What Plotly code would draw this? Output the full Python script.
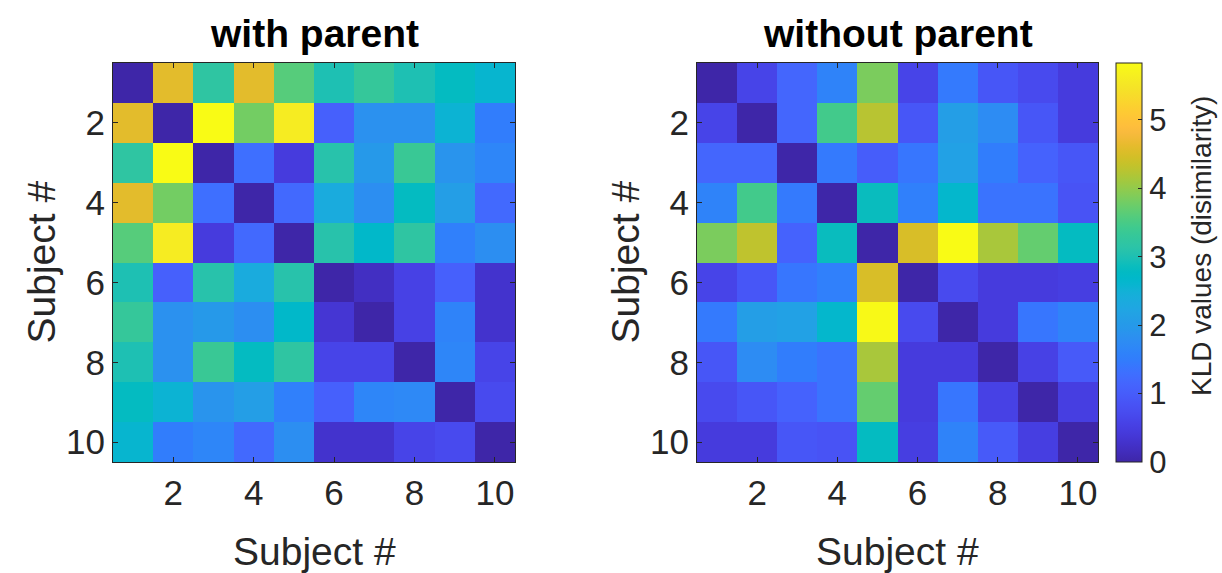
import plotly.graph_objects as go

subjects = list(range(1, 11))
tick_vals = [2, 4, 6, 8, 10]
cbar_ticks = [0, 1, 2, 3, 4, 5]

with_parent = [
    [0.00, 4.60, 3.20, 4.60, 3.60, 3.00, 3.30, 3.00, 2.80, 2.60],
    [4.60, 0.00, 5.83, 3.80, 5.60, 1.05, 1.85, 1.85, 2.55, 1.50],
    [3.20, 5.83, 0.00, 1.30, 0.45, 3.10, 2.00, 3.35, 1.90, 1.65],
    [4.60, 3.80, 1.30, 0.00, 1.20, 2.35, 1.80, 2.80, 2.10, 1.20],
    [3.60, 5.60, 0.45, 1.20, 0.00, 3.10, 2.70, 3.20, 1.55, 1.80],
    [3.00, 1.05, 3.10, 2.35, 3.10, 0.00, 0.20, 0.55, 1.05, 0.30],
    [3.30, 1.85, 2.00, 1.80, 2.70, 0.35, 0.00, 0.55, 1.60, 0.30],
    [3.00, 1.85, 3.35, 2.80, 3.20, 0.60, 0.60, 0.00, 1.65, 0.60],
    [2.80, 2.55, 1.90, 2.10, 1.55, 1.05, 1.65, 1.70, 0.00, 0.70],
    [2.60, 1.50, 1.65, 1.20, 1.80, 0.30, 0.30, 0.60, 0.70, 0.00],
]

without_parent = [
    [0.00, 0.60, 1.15, 1.60, 3.85, 0.60, 1.45, 0.90, 0.70, 0.45],
    [0.60, 0.00, 1.15, 3.45, 4.25, 0.90, 2.10, 1.75, 0.90, 0.45],
    [1.15, 1.15, 0.00, 1.45, 1.00, 1.40, 2.15, 1.50, 1.10, 0.90],
    [1.60, 3.45, 1.45, 0.00, 2.85, 1.55, 2.65, 1.35, 1.35, 0.85],
    [3.85, 4.30, 1.10, 2.85, 0.00, 4.50, 5.83, 4.15, 3.70, 2.80],
    [0.60, 0.90, 1.40, 1.55, 4.50, 0.00, 0.70, 0.45, 0.45, 0.50],
    [1.45, 2.10, 2.15, 2.65, 5.80, 0.70, 0.00, 0.45, 1.40, 1.60],
    [0.90, 1.75, 1.50, 1.35, 4.15, 0.45, 0.45, 0.00, 0.55, 0.95],
    [0.70, 0.90, 1.10, 1.35, 3.70, 0.45, 1.40, 0.55, 0.00, 0.50],
    [0.45, 0.45, 0.90, 0.85, 2.80, 0.50, 1.60, 0.95, 0.50, 0.00],
]

zmin, zmax = 0.0, 5.83

parula = [
    [0.2422, 0.1504, 0.6603], [0.2504, 0.1650, 0.7076], [0.2578, 0.1818, 0.7511],
    [0.2647, 0.1978, 0.7952], [0.2706, 0.2147, 0.8364], [0.2751, 0.2342, 0.8710],
    [0.2783, 0.2559, 0.8991], [0.2803, 0.2782, 0.9221], [0.2813, 0.3006, 0.9414],
    [0.2810, 0.3228, 0.9579], [0.2795, 0.3447, 0.9717], [0.2760, 0.3667, 0.9829],
    [0.2699, 0.3892, 0.9906], [0.2602, 0.4123, 0.9952], [0.2440, 0.4358, 0.9988],
    [0.2206, 0.4603, 0.9973], [0.1963, 0.4847, 0.9892], [0.1834, 0.5074, 0.9798],
    [0.1786, 0.5289, 0.9682], [0.1764, 0.5499, 0.9520], [0.1687, 0.5703, 0.9359],
    [0.1540, 0.5902, 0.9218], [0.1460, 0.6091, 0.9079], [0.1380, 0.6276, 0.8973],
    [0.1248, 0.6459, 0.8883], [0.1113, 0.6635, 0.8763], [0.0952, 0.6798, 0.8598],
    [0.0689, 0.6948, 0.8394], [0.0297, 0.7082, 0.8163], [0.0036, 0.7203, 0.7917],
    [0.0067, 0.7312, 0.7660], [0.0433, 0.7411, 0.7394], [0.0964, 0.7500, 0.7120],
    [0.1408, 0.7584, 0.6842], [0.1717, 0.7670, 0.6554], [0.1938, 0.7758, 0.6251],
    [0.2161, 0.7843, 0.5923], [0.2470, 0.7918, 0.5567], [0.2906, 0.7973, 0.5188],
    [0.3406, 0.8008, 0.4789], [0.3909, 0.8029, 0.4354], [0.4456, 0.8024, 0.3909],
    [0.5044, 0.7993, 0.3480], [0.5616, 0.7942, 0.3045], [0.6174, 0.7876, 0.2612],
    [0.6720, 0.7793, 0.2227], [0.7242, 0.7698, 0.1910], [0.7738, 0.7598, 0.1646],
    [0.8203, 0.7498, 0.1535], [0.8634, 0.7406, 0.1596], [0.9035, 0.7330, 0.1774],
    [0.9393, 0.7288, 0.2100], [0.9728, 0.7298, 0.2394], [0.9956, 0.7434, 0.2371],
    [0.9970, 0.7659, 0.2199], [0.9952, 0.7893, 0.2028], [0.9892, 0.8136, 0.1885],
    [0.9786, 0.8386, 0.1766], [0.9676, 0.8639, 0.1643], [0.9610, 0.8890, 0.1537],
    [0.9597, 0.9135, 0.1423], [0.9628, 0.9373, 0.1265], [0.9691, 0.9606, 0.1064],
    [0.9769, 0.9839, 0.0805],
]
n = len(parula)
colorscale = [[i / (n - 1), "rgb(%d,%d,%d)" % tuple(round(c * 255) for c in rgb)]
              for i, rgb in enumerate(parula)]

W, H = 1222, 573
FONT = "Liberation Sans, Arial, Helvetica, sans-serif"
TXT = "#262626"

ax_l = (113, 515)
ax_r = (697, 1098)
ax_top, ax_bot = 63, 462


def px(x):
    return x / W


def py(y):
    return 1 - y / H


fig = go.Figure()
fig.add_trace(go.Heatmap(
    z=with_parent, x=subjects, y=subjects, colorscale=colorscale,
    zmin=zmin, zmax=zmax, showscale=False, xaxis="x", yaxis="y",
))
fig.add_trace(go.Heatmap(
    z=without_parent, x=subjects, y=subjects, colorscale=colorscale,
    zmin=zmin, zmax=zmax, xaxis="x2", yaxis="y2",
    colorbar=dict(
        x=px(1116), xanchor="left", xref="paper",
        y=py((ax_top + ax_bot) / 2), yanchor="middle",
        len=(ax_bot - ax_top) / H, lenmode="fraction",
        thickness=26, thicknessmode="pixels",
        outlinewidth=1, outlinecolor=TXT,
        tickvals=cbar_ticks, ticks="inside", ticklen=4, tickcolor=TXT,
        tickprefix="\u2009",
        tickfont=dict(family=FONT, size=31, color=TXT),
        xpad=0, ypad=0,
    ),
))

axis_common = dict(
    range=[0.5, 10.5], tickvals=tick_vals, ticks="inside", ticklen=5,
    tickcolor=TXT, showline=True, linecolor=TXT, linewidth=1, mirror="allticks",
    showgrid=False, zeroline=False,
    tickfont=dict(family=FONT, size=35, color=TXT),
)

fig.update_layout(
    width=W, height=H, margin=dict(l=0, r=0, t=0, b=0),
    paper_bgcolor="white", plot_bgcolor="white",
    xaxis=dict(domain=[px(ax_l[0]), px(ax_l[1])], anchor="y", **axis_common),
    yaxis=dict(domain=[py(ax_bot), py(ax_top)], anchor="x",
               **{**axis_common, "range": [10.5, 0.5]}),
    xaxis2=dict(domain=[px(ax_r[0]), px(ax_r[1])], anchor="y2", **axis_common),
    yaxis2=dict(domain=[py(ax_bot), py(ax_top)], anchor="x2",
                **{**axis_common, "range": [10.5, 0.5]}),
    showlegend=False,
)

annotations = []
for (x0, x1), title in [(ax_l, "with parent"), (ax_r, "without parent")]:
    cx = (x0 + x1) / 2
    annotations.append(dict(text="<b>%s</b>" % title, x=px(cx), y=py(33),
                            xref="paper", yref="paper", showarrow=False,
                            xanchor="center", yanchor="middle",
                            font=dict(family=FONT, size=39, color="black")))
    annotations.append(dict(text="Subject #", x=px(cx), y=py(551),
                            xref="paper", yref="paper", showarrow=False,
                            xanchor="center", yanchor="middle",
                            font=dict(family=FONT, size=39, color=TXT)))
    annotations.append(dict(text="Subject #", x=px(x0 - 72), y=py((ax_top + ax_bot) / 2),
                            xref="paper", yref="paper", showarrow=False,
                            xanchor="center", yanchor="middle", textangle=-90,
                            font=dict(family=FONT, size=39, color=TXT)))
annotations.append(dict(text="KLD values (disimilarity)", x=px(1201),
                        y=py(246), xref="paper", yref="paper",
                        showarrow=False, xanchor="center", yanchor="middle",
                        textangle=-90, font=dict(family=FONT, size=28, color=TXT)))
fig.update_layout(annotations=annotations)

fig.write_html("out.html")
